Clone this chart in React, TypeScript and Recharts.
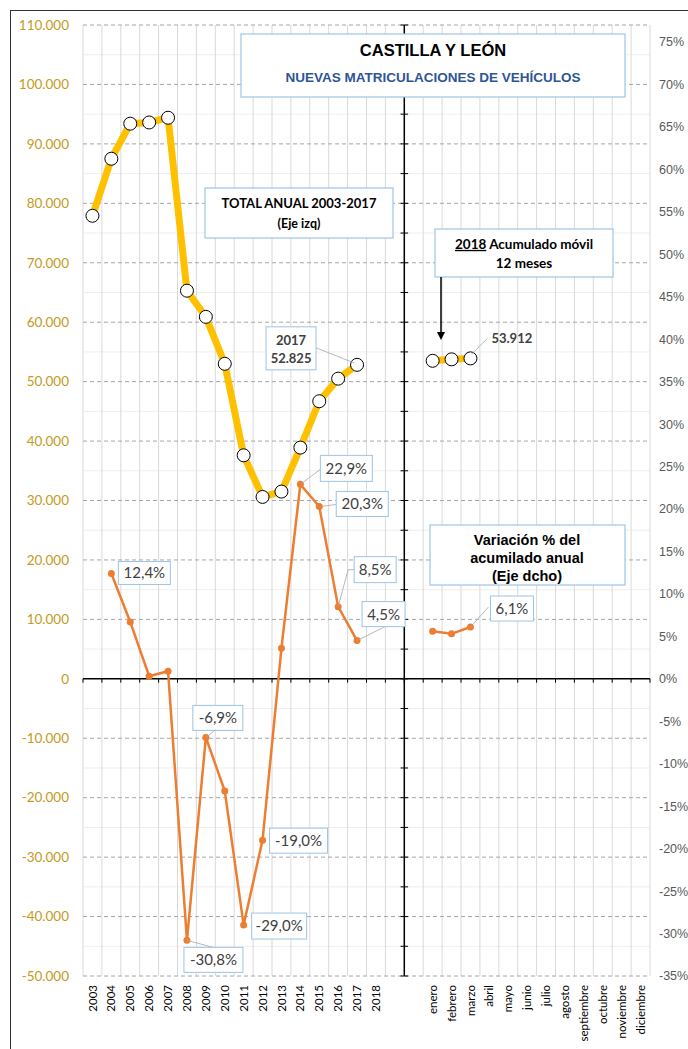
import React from 'react';
import { ComposedChart, Line, XAxis, YAxis, ReferenceLine, LabelList } from 'recharts';

// categorias: años, dos huecos y los meses de 2018
const years = ['2003', '2004', '2005', '2006', '2007', '2008', '2009', '2010', '2011', '2012', '2013', '2014', '2015', '2016', '2017', '2018'];
const gapSlots = ['', ''];
const months = ['enero', 'febrero', 'marzo', 'abril', 'mayo', 'junio', 'julio', 'agosto', 'septiembre', 'octubre', 'noviembre', 'diciembre'];

// total anual (eje izq) y variación % (eje dcho)
const totalAnual = [77900, 87500, 93400, 93600, 94400, 65300, 60900, 53000, 37600, 30600, 31500, 38900, 46700, 50500, 52825, null];
const variacionAnual = [null, 12.4, 6.7, 0.3, 0.9, -30.8, -6.9, -13.2, -29.0, -19.0, 3.6, 22.9, 20.3, 8.5, 4.5, null];

// 2018 acumulado móvil 12 meses
const acumuladoMovil = [53500, 53750, 53912];
const variacionMensual = [5.6, 5.3, 6.1];

const leftTicks = [-50000, -40000, -30000, -20000, -10000, 0, 10000, 20000, 30000, 40000, 50000, 60000, 70000, 80000, 90000, 100000, 110000];
const minorTicks = [-45000, -35000, -25000, -15000, -5000, 5000, 15000, 25000, 35000, 45000, 55000, 65000, 75000, 85000, 95000, 105000];
const rightTicks = [-35, -30, -25, -20, -15, -10, -5, 0, 5, 10, 15, 20, 25, 30, 35, 40, 45, 50, 55, 60, 65, 70, 75];

const rows = [
  ...years.map((y, i) => ({ key: y, label: y, total: totalAnual[i], variacion: variacionAnual[i] })),
  ...gapSlots.map((g, i) => ({ key: `gap${i}`, label: g })),
  ...months.map((m, i) => ({
    key: m,
    label: m,
    movil: i < acumuladoMovil.length ? acumuladoMovil[i] : null,
    varMes: i < variacionMensual.length ? variacionMensual[i] : null,
  })),
];
// slot = centro de cada categoria en el eje numerico auxiliar
const data = rows.map((r, i) => ({ ...r, slot: i + 0.5 }));

const nSlots = data.length;
const slotEdges = data.map((_, i) => i).concat([nSlots]);
const axisBreak = years.length + gapSlots.length - 1; // linea vertical entre 2018 y enero
const axisTickVals = leftTicks.concat(minorTicks);

const CALIBRI = "Lato, 'Open Sans', sans-serif";
const ARIAL = "'Liberation Sans', Arial, sans-serif";
const LABEL_GREY = '#404040';
const BOX_BLUE = '#9dc3e6';

const fmtPct = (v: number) => `${v.toFixed(1).replace('.', ',')}%`;
const fmtMiles = (v: number) => v.toLocaleString('de-DE');

type LabelPos = { dx: number; dy: number; w: number; h: number; leader?: number[] };

// posiciones de las etiquetas de variación, relativas al punto
const varLabelPos: Record<string, LabelPos> = {
  '2004': { dx: 7, dy: -12, w: 52, h: 23 },
  '2008': { dx: -3, dy: 7, w: 59, h: 25, leader: [0, 0, 26, 7] },
  '2009': { dx: -13, dy: -32, w: 50, h: 25, leader: [0, 0, 9, -7] },
  '2011': { dx: 8, dy: -12, w: 55, h: 26 },
  '2012': { dx: 7, dy: -12, w: 58, h: 25 },
  '2014': { dx: 20, dy: -29, w: 52, h: 26, leader: [0, 0, 20, -15] },
  '2015': { dx: 17, dy: -15, w: 52, h: 25, leader: [2, 0, 17, -2] },
  '2016': { dx: 16, dy: -50, w: 42, h: 26, leader: [0, 0, 10, -37, 16, -37] },
  '2017': { dx: 5, dy: -39, w: 43, h: 25, leader: [0, 0, 28, -14] },
  marzo: { dx: 20, dy: -31, w: 43, h: 25, leader: [0, 0, 18, -20] },
};

const findRow = (key: string) => data.find((d) => d.key === key) as any;

function toPoints(x: number, y: number, rel: number[]) {
  const out: string[] = [];
  for (let i = 0; i + 1 < rel.length; i += 2) out.push(`${x + rel[i]},${y + rel[i + 1]}`);
  return out.join(' ');
}

function VarLabel(props: any) {
  const { x, y, value, field } = props;
  const pos = varLabelPos[value];
  const row = findRow(value);
  if (!pos || !row || row[field] == null || !Number.isFinite(x) || !Number.isFinite(y)) return null;
  const v = row[field];
  const bx = x + pos.dx;
  const by = y + pos.dy;
  return (
    <g>
      {pos.leader && <polyline points={toPoints(x, y, pos.leader)} fill="none" stroke="#a6a6a6" strokeWidth={0.8} />}
      <rect x={bx} y={by} width={pos.w} height={pos.h} fill="#fff" stroke={BOX_BLUE} strokeWidth={1} />
      <text x={bx + pos.w / 2} y={by + pos.h / 2} dy="0.36em" textAnchor="middle" fontFamily={CALIBRI} fontSize={15} fill={LABEL_GREY}>
        {fmtPct(v)}
      </text>
    </g>
  );
}

function TotalLabel(props: any) {
  const { x, y, value } = props;
  const row = findRow(value);
  if (value !== '2017' || !row || row.total == null || !Number.isFinite(y)) return null;
  return (
    <g>
      <polyline points={toPoints(x, y, [-3, -2, -41, -17])} fill="none" stroke="#a6a6a6" strokeWidth={0.8} />
      <rect x={x - 91} y={y - 38} width={50} height={43} fill="#fff" stroke={BOX_BLUE} strokeWidth={1} />
      <text x={x - 66} y={y - 25} dy="0.36em" textAnchor="middle" fontFamily={CALIBRI} fontWeight="bold" fontSize={13} fill={LABEL_GREY}>
        {row.label}
      </text>
      <text x={x - 66} y={y - 7} dy="0.36em" textAnchor="middle" fontFamily={CALIBRI} fontWeight="bold" fontSize={13} fill={LABEL_GREY}>
        {fmtMiles(row.total)}
      </text>
    </g>
  );
}

function MovilLabel(props: any) {
  const { x, y, value } = props;
  const row = findRow(value);
  if (value !== 'marzo' || !row || row.movil == null || !Number.isFinite(y)) return null;
  return (
    <g>
      <polyline points={toPoints(x, y, [1, -4, 17, -20])} fill="none" stroke="#a6a6a6" strokeWidth={0.8} />
      <text x={x + 21} y={y - 20} dy="0.36em" fontFamily={CALIBRI} fontWeight="bold" fontSize={13} fill={LABEL_GREY}>
        {fmtMiles(row.movil)}
      </text>
    </g>
  );
}

function XTick(props: any) {
  const { x, y, payload } = props;
  const row = findRow(payload.value);
  const text = row ? row.label : '';
  const ay = y + 1;
  return (
    <text x={x} y={ay} transform={`rotate(-90, ${x}, ${ay})`} textAnchor="end" dy="0.36em" fontFamily={CALIBRI} fontSize={11.5} fill="#000">
      {text}
    </text>
  );
}

function Overlay() {
  return (
    <svg width={688} height={1049} style={{ position: 'absolute', left: 0, top: 0, pointerEvents: 'none' }}>
      {/* titulo */}
      <rect x={241} y={34} width={384} height={63} fill="#fff" stroke={BOX_BLUE} strokeWidth={1.2} />
      <text x={433} y={50} dy="0.36em" textAnchor="middle" fontFamily={ARIAL} fontWeight="bold" fontSize={16.5} fill="#000">
        CASTILLA Y LEÓN
      </text>
      <text x={433} y={77} dy="0.36em" textAnchor="middle" fontFamily={ARIAL} fontWeight="bold" fontSize={13.5} fill="#2f5597">
        NUEVAS MATRICULACIONES DE VEHÍCULOS
      </text>

      {/* total anual */}
      <rect x={205} y={188} width={188} height={50} fill="#fff" stroke={BOX_BLUE} strokeWidth={1.2} />
      <text x={299} y={203} dy="0.36em" textAnchor="middle" fontFamily={CALIBRI} fontWeight="bold" fontSize={13} fill="#000">
        TOTAL ANUAL 2003-2017
      </text>
      <text x={299} y={223} dy="0.36em" textAnchor="middle" fontFamily={CALIBRI} fontWeight="bold" fontSize={12.5} fill="#000">
        (Eje izq)
      </text>

      {/* 2018 acumulado movil */}
      <rect x={435} y={229} width={178} height={48} fill="#fff" stroke={BOX_BLUE} strokeWidth={1.2} />
      <text x={524} y={244} dy="0.36em" textAnchor="middle" fontFamily={CALIBRI} fontWeight="bold" fontSize={13.5} fill="#000">
        <tspan textDecoration="underline">2018</tspan> Acumulado móvil
      </text>
      <text x={524} y={263} dy="0.36em" textAnchor="middle" fontFamily={CALIBRI} fontWeight="bold" fontSize={13.5} fill="#000">
        12 meses
      </text>
      <line x1={441} y1={277} x2={441} y2={333} stroke="#000" strokeWidth={1.5} />
      <polygon points="437,332 445,332 441,340" fill="#000" />

      {/* variacion */}
      <rect x={430} y={525} width={195} height={60} fill="#fff" stroke={BOX_BLUE} strokeWidth={1.2} />
      <text x={527} y={540} dy="0.36em" textAnchor="middle" fontFamily={ARIAL} fontWeight="bold" fontSize={14.5} fill="#000">
        Variación % del
      </text>
      <text x={527} y={558} dy="0.36em" textAnchor="middle" fontFamily={ARIAL} fontWeight="bold" fontSize={14.5} fill="#000">
        acumilado anual
      </text>
      <text x={527} y={576} dy="0.36em" textAnchor="middle" fontFamily={ARIAL} fontWeight="bold" fontSize={14.5} fill="#000">
        (Eje dcho)
      </text>
    </svg>
  );
}

export default function App() {
  return (
    <div style={{ position: 'absolute', left: 0, top: 0, width: 688, height: 1049, background: '#fff', overflow: 'hidden' }}>
      <div style={{ position: 'absolute', left: 10, top: 10, width: 700, height: 1060, borderTop: '1.5px solid #333', borderLeft: '1.5px solid #333' }} />
      <div style={{ position: 'absolute', left: 0, top: 0 }}>
        <ComposedChart width={688} height={1049} data={data} margin={{ top: 25, right: 0, bottom: 0, left: 0 }}>
          <XAxis xAxisId="cat" dataKey="key" type="category" scale="band" height={73} interval={0} axisLine={false} tickLine={false} tick={<XTick />} />
          <XAxis
            xAxisId="num"
            dataKey="slot"
            type="number"
            domain={[(min: number) => min - 0.5, (max: number) => max + 0.5]}
            allowDataOverflow
            hide
          />
          <YAxis
            yAxisId="left"
            orientation="left"
            width={83}
            domain={[-50000, 110000]}
            ticks={leftTicks}
            interval={0}
            allowDataOverflow
            axisLine={false}
            tickLine={false}
            tickMargin={8}
            tickFormatter={fmtMiles}
            tick={{ fill: '#c49a22', fontSize: 13.5, fontFamily: CALIBRI }}
          />
          <YAxis
            yAxisId="right"
            orientation="right"
            width={38}
            domain={[-35, 77]}
            ticks={rightTicks}
            interval={0}
            allowDataOverflow
            axisLine={false}
            tickLine={false}
            tickMargin={3}
            tickFormatter={(v: number) => `${v}%`}
            tick={{ fill: '#595959', fontSize: 12.5, fontFamily: ARIAL }}
          />

          {minorTicks.map((v) => (
            <ReferenceLine key={`mn${v}`} yAxisId="left" xAxisId="num" y={v} stroke="#eeeeee" strokeWidth={1} />
          ))}
          {slotEdges.map((i) => (
            <ReferenceLine key={`vg${i}`} yAxisId="left" xAxisId="num" x={i} stroke="#d9d9d9" strokeWidth={1} />
          ))}
          {leftTicks.filter((v) => v !== 0).map((v) => (
            <ReferenceLine key={`mj${v}`} yAxisId="left" xAxisId="num" y={v} stroke="#a6a6a6" strokeDasharray="4 3" strokeWidth={1} />
          ))}

          {/* ejes en cero y separador 2018 */}
          <ReferenceLine yAxisId="left" xAxisId="num" y={0} stroke="#000" strokeWidth={1.5} />
          {slotEdges.map((i) => (
            <ReferenceLine key={`xt${i}`} yAxisId="left" xAxisId="num" segment={[{ x: i, y: 0 }, { x: i, y: -650 }]} stroke="#000" strokeWidth={1} />
          ))}
          <ReferenceLine yAxisId="left" xAxisId="num" x={axisBreak} stroke="#000" strokeWidth={1.5} />
          {axisTickVals.map((v) => (
            <ReferenceLine key={`yt${v}`} yAxisId="left" xAxisId="num" segment={[{ x: axisBreak - 0.2, y: v }, { x: axisBreak + 0.2, y: v }]} stroke="#000" strokeWidth={1} />
          ))}

          <Line
            xAxisId="cat"
            yAxisId="left"
            dataKey="total"
            stroke="#ffc000"
            strokeWidth={7}
            dot={{ r: 6.5, fill: '#fff', stroke: '#000', strokeWidth: 1 }}
            isAnimationActive={false}
          >
            <LabelList dataKey="key" content={<TotalLabel />} />
          </Line>
          <Line
            xAxisId="cat"
            yAxisId="left"
            dataKey="movil"
            stroke="#ffc000"
            strokeWidth={7}
            dot={{ r: 6.5, fill: '#fff', stroke: '#000', strokeWidth: 1 }}
            isAnimationActive={false}
          >
            <LabelList dataKey="key" content={<MovilLabel />} />
          </Line>
          <Line
            xAxisId="cat"
            yAxisId="right"
            dataKey="variacion"
            stroke="#ed7d31"
            strokeWidth={2.5}
            dot={{ r: 3.5, fill: '#ed7d31', stroke: '#ed7d31', strokeWidth: 0 }}
            isAnimationActive={false}
          >
            <LabelList dataKey="key" content={<VarLabel field="variacion" />} />
          </Line>
          <Line
            xAxisId="cat"
            yAxisId="right"
            dataKey="varMes"
            stroke="#ed7d31"
            strokeWidth={2.5}
            dot={{ r: 3.5, fill: '#ed7d31', stroke: '#ed7d31', strokeWidth: 0 }}
            isAnimationActive={false}
          >
            <LabelList dataKey="key" content={<VarLabel field="varMes" />} />
          </Line>
        </ComposedChart>
      </div>
      <Overlay />
    </div>
  );
}
